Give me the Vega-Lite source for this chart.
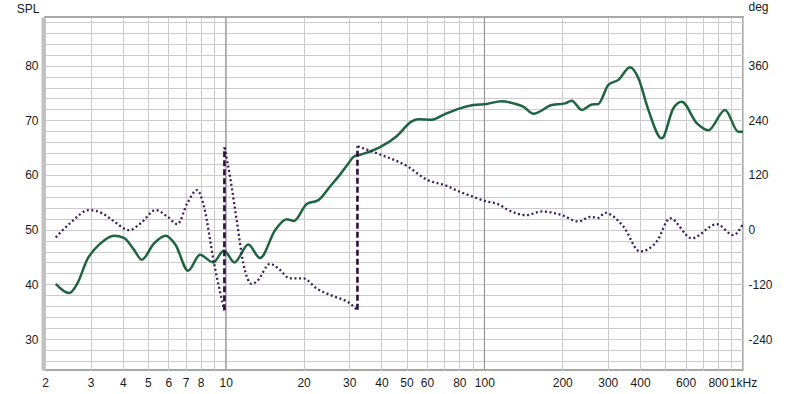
{
  "$schema": "https://vega.github.io/schema/vega-lite/v6.json",
  "width": 698,
  "height": 353,
  "autosize": {"type": "none"},
  "padding": {"left": 45, "top": 17, "right": 57, "bottom": 24},
  "background": "white",
  "config": {
    "view": {"stroke": "#a8a8a8", "strokeWidth": 2},
    "axis": {
      "labelFont": "Liberation Sans", "labelFontSize": 12, "labelColor": "#1a1a1a",
      "titleFont": "Liberation Sans", "titleFontSize": 12, "titleFontWeight": "normal", "titleColor": "#1a1a1a",
      "ticks": false, "tickSize": 0, "gridColor": "#cbcbcb", "gridWidth": 1
    }
  },
  "datasets": {
    "decades": [{"f": 10}, {"f": 100}],
    "spl": [
      {"f": 2.20, "spl": 40.1}, {"f": 2.48, "spl": 38.4}, {"f": 2.67, "spl": 40.2}, {"f": 2.91, "spl": 44.5},
      {"f": 3.28, "spl": 47.5}, {"f": 3.70, "spl": 48.9}, {"f": 4.04, "spl": 48.5}, {"f": 4.42, "spl": 46.3},
      {"f": 4.73, "spl": 44.5}, {"f": 5.28, "spl": 47.5}, {"f": 5.86, "spl": 48.9}, {"f": 6.40, "spl": 47.2},
      {"f": 7.15, "spl": 42.5}, {"f": 7.95, "spl": 45.4}, {"f": 8.95, "spl": 44.0}, {"f": 9.84, "spl": 46.2},
      {"f": 10.8, "spl": 44.0}, {"f": 12.22, "spl": 47.3}, {"f": 13.57, "spl": 44.8}, {"f": 15.51, "spl": 49.9},
      {"f": 17.21, "spl": 51.9}, {"f": 18.36, "spl": 51.6}, {"f": 20.56, "spl": 54.7}, {"f": 22.8, "spl": 55.4},
      {"f": 25.3, "spl": 57.9}, {"f": 27.25, "spl": 59.7}, {"f": 29.78, "spl": 62.1}, {"f": 31.14, "spl": 63.3},
      {"f": 33.0, "spl": 63.7}, {"f": 36.13, "spl": 64.3}, {"f": 39.49, "spl": 65.1}, {"f": 45.82, "spl": 67.1},
      {"f": 52.36, "spl": 69.8}, {"f": 55.55, "spl": 70.2}, {"f": 62.58, "spl": 70.1}, {"f": 69.38, "spl": 71.0},
      {"f": 79.3, "spl": 72.1}, {"f": 90.65, "spl": 72.8}, {"f": 102.1, "spl": 73.0}, {"f": 116.7, "spl": 73.5},
      {"f": 129.4, "spl": 73.1}, {"f": 141.4, "spl": 72.5}, {"f": 154.6, "spl": 71.2}, {"f": 182.2, "spl": 72.8},
      {"f": 205, "spl": 73.1}, {"f": 217.6, "spl": 73.6}, {"f": 237.8, "spl": 71.9}, {"f": 260.1, "spl": 72.9},
      {"f": 275.8, "spl": 73.0}, {"f": 301.6, "spl": 76.5}, {"f": 329.6, "spl": 77.4}, {"f": 365.8, "spl": 79.7},
      {"f": 394, "spl": 77.7}, {"f": 430.6, "spl": 71.9}, {"f": 485.2, "spl": 66.7}, {"f": 537.9, "spl": 72.2},
      {"f": 579.7, "spl": 73.4}, {"f": 662.4, "spl": 69.5}, {"f": 734.6, "spl": 68.2}, {"f": 852.5, "spl": 71.9},
      {"f": 959.4, "spl": 67.9}, {"f": 1000, "spl": 67.9}
    ],
    "phase": [
      {"f": 2.20, "deg": -17, "seg": "A"}, {"f": 2.51, "deg": 15, "seg": "A"}, {"f": 2.96, "deg": 43, "seg": "A"},
      {"f": 3.33, "deg": 36, "seg": "A"}, {"f": 3.70, "deg": 18, "seg": "A"}, {"f": 4.23, "deg": -1, "seg": "A"},
      {"f": 4.69, "deg": 14, "seg": "A"}, {"f": 5.36, "deg": 43, "seg": "A"}, {"f": 5.94, "deg": 29, "seg": "A"},
      {"f": 6.50, "deg": 12, "seg": "A"}, {"f": 7.10, "deg": 58, "seg": "A"}, {"f": 7.76, "deg": 87, "seg": "A"},
      {"f": 8.24, "deg": 50, "seg": "A"}, {"f": 9.01, "deg": -74, "seg": "A"}, {"f": 9.86, "deg": -177, "seg": "A"},
      {"f": 9.90, "deg": 180, "seg": "B"}, {"f": 10.39, "deg": 116, "seg": "B"}, {"f": 11.02, "deg": 21, "seg": "B"},
      {"f": 11.69, "deg": -74, "seg": "B"}, {"f": 12.6, "deg": -119, "seg": "B"}, {"f": 13.17, "deg": -114, "seg": "B"},
      {"f": 14.83, "deg": -75, "seg": "B"}, {"f": 15.97, "deg": -85, "seg": "B"}, {"f": 17.72, "deg": -107, "seg": "B"},
      {"f": 19.95, "deg": -107, "seg": "B"}, {"f": 22.47, "deg": -129, "seg": "B"}, {"f": 26.06, "deg": -146, "seg": "B"},
      {"f": 30.24, "deg": -162, "seg": "B"}, {"f": 32.2, "deg": -176, "seg": "B"},
      {"f": 32.4, "deg": 183, "seg": "C"}, {"f": 39.49, "deg": 165, "seg": "C"}, {"f": 50.09, "deg": 140, "seg": "C"},
      {"f": 59.84, "deg": 110, "seg": "C"}, {"f": 71.52, "deg": 96, "seg": "C"}, {"f": 80.51, "deg": 83, "seg": "C"},
      {"f": 90.65, "deg": 72, "seg": "C"}, {"f": 99.08, "deg": 64, "seg": "C"}, {"f": 115, "deg": 54, "seg": "C"},
      {"f": 122, "deg": 45, "seg": "C"}, {"f": 145.8, "deg": 32, "seg": "C"}, {"f": 166.6, "deg": 40, "seg": "C"},
      {"f": 199.1, "deg": 32, "seg": "C"}, {"f": 230.7, "deg": 18, "seg": "C"}, {"f": 256.2, "deg": 28, "seg": "C"},
      {"f": 275.8, "deg": 26, "seg": "C"}, {"f": 292.9, "deg": 37, "seg": "C"}, {"f": 344.7, "deg": 7, "seg": "C"},
      {"f": 399.9, "deg": -48, "seg": "C"}, {"f": 463.9, "deg": -26, "seg": "C"}, {"f": 522.5, "deg": 25, "seg": "C"},
      {"f": 633.7, "deg": -19, "seg": "C"}, {"f": 791.7, "deg": 12, "seg": "C"}, {"f": 917.8, "deg": -12, "seg": "C"},
      {"f": 994.2, "deg": 10, "seg": "C"}
    ],
    "wraps": [
      {"f": 9.88, "lo": -177, "hi": 181},
      {"f": 32.3, "lo": -176, "hi": 183}
    ]
  },
  "layer": [
    {
      "data": {"name": "decades"},
      "mark": {"type": "rule", "color": "#8a8a8a", "strokeWidth": 1},
      "encoding": {
        "x": {
          "field": "f", "type": "quantitative",
          "scale": {"type": "log", "domain": [2, 1000], "nice": false},
          "axis": {
            "title": null, "domain": false, "labelPadding": 7, "labelOverlap": false, "labelFlush": false,
            "values": [2,3,4,5,6,7,8,9,10,20,30,40,50,60,70,80,90,100,200,300,400,500,600,700,800,900,1000],
            "labelExpr": "datum.value == 1000 ? '\u00a0\u00a01kHz' : (indexof([9,70,90,500,700,900], datum.value) >= 0 ? '' : toString(datum.value))"
          }
        }
      }
    },
    {
      "data": {"name": "spl"},
      "mark": {"type": "line", "color": "#1e6441", "strokeWidth": 2.5, "interpolate": "monotone"},
      "encoding": {
        "x": {"field": "f", "type": "quantitative", "scale": {"type": "log", "domain": [2, 1000], "nice": false}},
        "y": {
          "field": "spl", "type": "quantitative",
          "scale": {"domain": [24.33, 88.9], "nice": false, "zero": false},
          "axis": {
            "orient": "left", "title": "SPL", "titleAngle": 0, "titleAlign": "right", "titleBaseline": "alphabetic",
            "titleX": -4, "titleY": -4.5, "domain": true, "domainColor": "#c0c0c0", "domainWidth": 4, "offset": 2,
            "labelPadding": 5, "labelOverlap": false,
            "values": [26,28,30,32,34,36,38,40,42,44,46,48,50,52,54,56,58,60,62,64,66,68,70,72,74,76,78,80,82,84,86,88],
            "labelExpr": "datum.value % 10 == 0 ? toString(datum.value) : ''"
          }
        }
      }
    },
    {
      "data": {"name": "phase"},
      "mark": {"type": "line", "color": "#3c1e5a", "strokeWidth": 2.3, "strokeDash": [2, 2.6], "interpolate": "monotone"},
      "encoding": {
        "x": {"field": "f", "type": "quantitative", "scale": {"type": "log", "domain": [2, 1000], "nice": false}},
        "y": {
          "field": "deg", "type": "quantitative",
          "scale": {"domain": [-308.04, 466.8], "nice": false, "zero": false},
          "axis": {
            "orient": "right", "title": "deg", "titleAngle": 0, "titleAlign": "left", "titleBaseline": "alphabetic",
            "titleX": 5, "titleY": -7, "domain": false, "grid": false, "labelPadding": 5, "labelOverlap": false,
            "values": [-240, -120, 0, 120, 240, 360],
            "labelExpr": "toString(datum.value)"
          }
        },
        "detail": {"field": "seg", "type": "nominal"}
      }
    },
    {
      "data": {"name": "wraps"},
      "mark": {"type": "rule", "color": "#2a1040", "strokeWidth": 2.6, "strokeDash": [6, 3]},
      "encoding": {
        "x": {"field": "f", "type": "quantitative", "scale": {"type": "log", "domain": [2, 1000], "nice": false}},
        "y": {"field": "lo", "type": "quantitative", "scale": {"domain": [-308.04, 466.8], "nice": false, "zero": false}, "axis": null},
        "y2": {"field": "hi"}
      }
    }
  ],
  "resolve": {"scale": {"y": "independent"}, "axis": {"y": "independent"}}
}
